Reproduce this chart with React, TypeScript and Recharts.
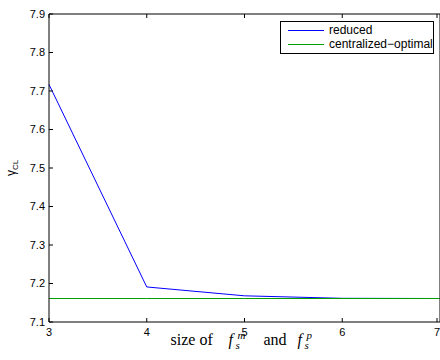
import { Line, LineChart, XAxis, YAxis } from 'recharts';

const sizes = [3, 4, 5, 6, 7];
const reducedGamma = [7.717, 7.191, 7.168, 7.1615, 7.161];
const optimalGamma = [7.161, 7.161, 7.161, 7.161, 7.161];
const seriesNames = ['reduced', 'centralized\u2212optimal'];
const seriesColors = ['#0000ff', '#00a000'];
const xTicks = [3, 4, 5, 6, 7];
const yTicks = [7.1, 7.2, 7.3, 7.4, 7.5, 7.6, 7.7, 7.8, 7.9];

const data = sizes.map((size, i) => ({ size, reduced: reducedGamma[i], optimal: optimalGamma[i] }));

const SANS = '"Liberation Sans", Arial, sans-serif';
const SERIF = '"Liberation Serif", "Times New Roman", serif';

function LeftTick({ x, y, payload }: any) {
  return (
    <g>
      <line x1={x} x2={x + 4} y1={y} y2={y} stroke="#000" />
      <text x={x - 4} y={y} dy="0.35em" textAnchor="end" fontFamily={SANS} fontSize={11} fill="#000">
        {payload.value.toFixed(1)}
      </text>
    </g>
  );
}

function BottomTick({ x, y, payload }: any) {
  return (
    <g>
      <line x1={x} x2={x} y1={y} y2={y - 4} stroke="#000" />
      <text x={x} y={y + 14} textAnchor="middle" fontFamily={SANS} fontSize={11} fill="#000">
        {payload.value}
      </text>
    </g>
  );
}

function TopTick({ x, y }: any) {
  return <line x1={x} x2={x} y1={y} y2={y + 4} stroke="#000" />;
}

function RightTick({ x, y }: any) {
  return <line x1={x} x2={x - 4} y1={y} y2={y} stroke="#000" />;
}

function XTitle({ viewBox }: any) {
  const cx = viewBox.x + viewBox.width / 2;
  const x0 = cx - 74;
  const base = viewBox.y + 23;
  const it = { fontFamily: SERIF, fontStyle: 'italic' as const, fill: '#000' };
  return (
    <g>
      <text x={x0} y={base} fontFamily={SERIF} fontSize={16} fill="#000">size of</text>
      <text x={x0 + 58} y={base} fontSize={16} {...it}>f</text>
      <text x={x0 + 67} y={base - 6} fontSize={11} {...it}>m</text>
      <text x={x0 + 65} y={base + 4} fontSize={11} {...it}>s</text>
      <text x={x0 + 93} y={base} fontFamily={SERIF} fontSize={16} fill="#000">and</text>
      <text x={x0 + 127} y={base} fontSize={16} {...it}>f</text>
      <text x={x0 + 136} y={base - 6} fontSize={11} {...it}>p</text>
      <text x={x0 + 134} y={base + 4} fontSize={11} {...it}>s</text>
    </g>
  );
}

function YTitle() {
  return (
    <text transform="rotate(-90)" x={-176} y={15} fontFamily={SANS} fontSize={12} fill="#000">
      γ<tspan fontSize={8} dy={3}>CL</tspan>
    </text>
  );
}

export default function App() {
  return (
    <div style={{ position: 'absolute', left: 0, top: 0, width: 440, height: 360, overflow: 'hidden', background: '#fff' }}>
      <LineChart width={441} height={360} data={data} margin={{ top: 13, right: 0, bottom: 0, left: 0 }}>
        <XAxis
          dataKey="size"
          type="number"
          domain={[3, 7]}
          ticks={xTicks}
          height={38}
          tickSize={0}
          tickMargin={0}
          tickLine={false}
          axisLine={{ stroke: '#000' }}
          tick={<BottomTick />}
          label={<XTitle />}
        />
        <XAxis
          xAxisId="top"
          orientation="top"
          dataKey="size"
          type="number"
          domain={[3, 7]}
          ticks={xTicks}
          height={1}
          tickSize={0}
          tickMargin={0}
          tickLine={false}
          axisLine={{ stroke: '#000' }}
          tick={<TopTick />}
        />
        <YAxis
          type="number"
          domain={[7.1, 7.9]}
          ticks={yTicks}
          width={49}
          tickSize={0}
          tickMargin={0}
          tickLine={false}
          axisLine={{ stroke: '#000' }}
          tick={<LeftTick />}
          label={<YTitle />}
        />
        <YAxis
          yAxisId="right"
          orientation="right"
          type="number"
          domain={[7.1, 7.9]}
          ticks={yTicks}
          width={1}
          tickSize={0}
          tickMargin={0}
          tickLine={false}
          axisLine={{ stroke: '#000' }}
          tick={<RightTick />}
        />
        <Line dataKey="reduced" name={seriesNames[0]} stroke={seriesColors[0]} strokeWidth={1} dot={false} isAnimationActive={false} />
        <Line dataKey="optimal" name={seriesNames[1]} stroke={seriesColors[1]} strokeWidth={1} dot={false} isAnimationActive={false} />
      </LineChart>
      <div
        style={{
          position: 'absolute',
          left: 280,
          top: 21,
          width: 152,
          height: 31,
          border: '1px solid #000',
          background: '#fff',
          fontFamily: SANS,
          fontSize: 12,
        }}
      >
        {seriesNames.map((name, i) => (
          <div key={name} style={{ position: 'absolute', left: 7, top: 1 + i * 14, height: 14, display: 'flex', alignItems: 'center', whiteSpace: 'nowrap' }}>
            <span style={{ display: 'inline-block', width: 36, height: 1, background: seriesColors[i], marginRight: 5 }} />
            <span>{name}</span>
          </div>
        ))}
      </div>
    </div>
  );
}
